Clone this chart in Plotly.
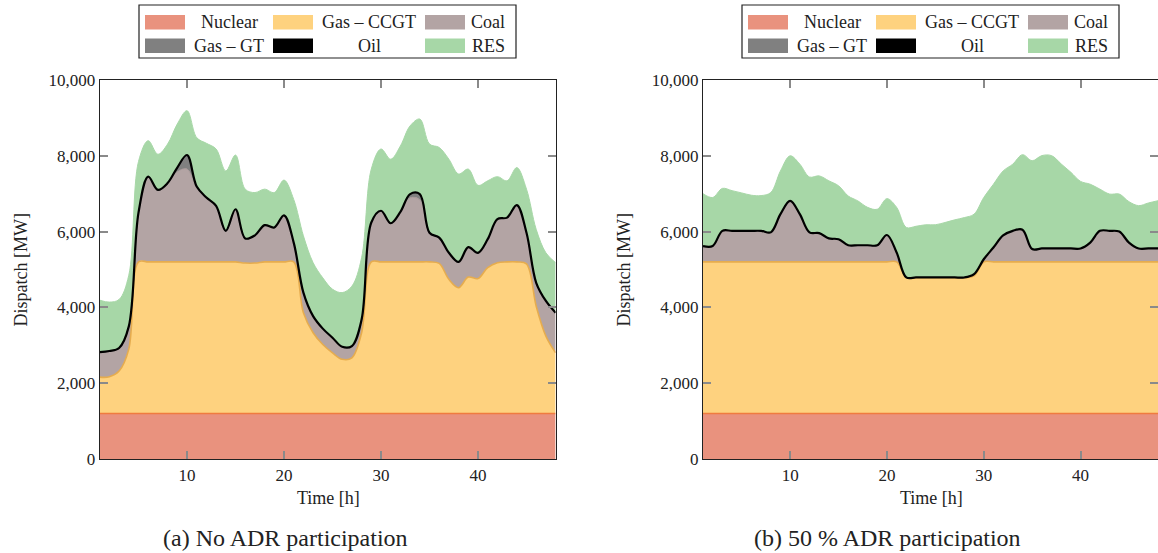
import plotly.graph_objects as go

# Hourly dispatch [MW] per technology, hours 1..48
hours = list(range(1, 49))

# (a) No ADR participation
nuclear_a = [1200] * 48
ccgt_a = [960, 970, 1120, 1700, 4000, 4000, 4000, 4000, 4000, 4000,
          4000, 4000, 4000, 4000, 4000, 3970, 3970, 4000, 4000, 4000,
          4000, 2660, 2130, 1820, 1600, 1430, 1470, 2130, 4000, 4000,
          4000, 4000, 4000, 4000, 4000, 3960, 3540, 3320, 3600, 3560,
          3850, 3980, 4000, 4000, 3950, 2830, 2040, 1600]
coal_a = [660, 680, 610, 600, 1300, 2250, 1900, 2080, 2380, 2450,
          1950, 1700, 1480, 820, 1390, 650, 730, 970, 910, 1230,
          510, 530, 440, 420, 400, 330, 310, 350, 1040, 1350,
          1020, 1320, 1690, 1640, 770, 680, 700, 680, 790, 680,
          750, 1150, 1170, 1500, 820, 620, 930, 1060]
gasgt_a = [0] * 8 + [110, 370, 40] + [0] * 21 + [100, 150] + [0] * 14
oil_a = [0] * 48
res_a = [1370, 1290, 1280, 1350, 1350, 950, 940, 1030, 1150, 1170,
         1290, 1430, 1500, 1580, 1430, 1300, 1130, 950, 920, 930,
         1140, 1500, 1410, 1340, 1280, 1430, 1580, 1630, 1410, 1630,
         1690, 1740, 1800, 1980, 2340, 2380, 2470, 2320, 2060, 1780,
         1540, 1120, 970, 990, 1150, 1410, 1270, 1320]

# (b) 50 % ADR participation
nuclear_b = [1200] * 48
ccgt_b = [4000] * 21 + [3590] * 7 + [3630] + [4000] * 19
coal_b = [420, 420, 820, 820, 820, 820, 820, 780, 1260, 1610,
          1260, 780, 760, 620, 600, 440, 440, 440, 440, 710,
          250, 0, 0, 0, 0, 0, 0, 0, 50, 70,
          380, 700, 820, 850, 340, 355, 355, 355, 355, 355,
          510, 820, 820, 800, 510, 355, 355, 355]
gasgt_b = [0] * 48
oil_b = [0] * 48
res_b = [1380, 1280, 1120, 1060, 1000, 940, 930, 1050, 1140, 1190,
         1320, 1460, 1510, 1520, 1410, 1300, 1170, 1000, 950, 960,
         1190, 1320, 1350, 1390, 1390, 1450, 1520, 1580, 1580, 1630,
         1670, 1700, 1760, 1980, 2330, 2450, 2450, 2230, 2010, 1770,
         1540, 1100, 970, 990, 1080, 1130, 1200, 1260]

tech_names = ["Nuclear", "Gas \u2013 CCGT", "Coal", "Gas \u2013 GT", "Oil", "RES"]
fill_colors = ["#E9927E", "#FED27F", "#B3A4A4", "#808080", "#000000", "#A7D7A7"]
line_colors = ["#F07B3F", "#E6AC4E", "#A89898", "#767676", "#000000", "#A7D7A7"]
line_widths = [1.6, 1.6, 1.0, 1.0, 2.2, 1.0]

y_ticks = [0, 2000, 4000, 6000, 8000, 10000]
x_ticks = [10, 20, 30, 40]

W, H = 1158, 553
FONT = "Liberation Serif"


def px(x):
    return x / W


def py(y):
    return 1 - y / H


fig = go.Figure()

panels = [
    ("x", "y", "a", [nuclear_a, ccgt_a, coal_a, gasgt_a, oil_a, res_a]),
    ("x2", "y2", "b", [nuclear_b, ccgt_b, coal_b, gasgt_b, oil_b, res_b]),
]
for xa, ya, grp, series in panels:
    for name, vals, fc, lc, lw in zip(tech_names, series, fill_colors,
                                      line_colors, line_widths):
        fig.add_trace(go.Scatter(
            x=hours, y=vals, name=name, xaxis=xa, yaxis=ya,
            stackgroup=grp, mode="lines",
            line=dict(color=lc, width=lw, shape="spline", smoothing=1.0),
            fillcolor=fc, showlegend=False, hoverinfo="skip",
        ))

axis_common = dict(
    showgrid=False, zeroline=False, showline=True, linecolor="#222",
    linewidth=1.2, mirror="ticks", ticks="inside", ticklen=8,
    tickwidth=1.5, tickcolor="#8a8a8a", automargin=False,
    tickfont=dict(family=FONT, size=17, color="#222"),
)
y_domain = [py(459), py(80)]
fig.update_layout(
    width=W, height=H,
    margin=dict(l=0, r=0, t=0, b=0, pad=0, autoexpand=False),
    plot_bgcolor="white", paper_bgcolor="white",
    font=dict(family=FONT, color="#222"),
    xaxis=dict(domain=[px(99.7), px(555.6)], range=[1, 48],
               tickvals=x_ticks, anchor="y", **axis_common),
    yaxis=dict(domain=y_domain, range=[0, 10000], tickvals=y_ticks,
               tickformat=",", anchor="x", **axis_common),
    xaxis2=dict(domain=[px(703), 1.0], range=[1, 48],
                tickvals=x_ticks, anchor="y2", **axis_common),
    yaxis2=dict(domain=y_domain, range=[0, 10000], tickvals=y_ticks,
                tickformat=",", anchor="x2", **axis_common),
)

# Axis titles and sub-captions
annotations = []
for dx, cap, cap_x in [(0, "(a) No ADR participation", 285),
                       (603, "(b) 50 % ADR participation", 888)]:
    annotations.append(dict(x=px(20 + dx), y=py(270.5), xref="paper", yref="paper",
                            text="Dispatch [MW]", textangle=-90, showarrow=False,
                            font=dict(family=FONT, size=18, color="#222"),
                            xanchor="center", yanchor="middle"))
    annotations.append(dict(x=px(328 + dx), y=py(498), xref="paper", yref="paper",
                            text="Time [h]", showarrow=False,
                            font=dict(family=FONT, size=18, color="#222"),
                            xanchor="center", yanchor="middle"))
    annotations.append(dict(x=px(cap_x), y=py(538), xref="paper", yref="paper",
                            text=cap, showarrow=False,
                            font=dict(family=FONT, size=24, color="#222"),
                            xanchor="center", yanchor="middle"))

# Legend boxes drawn above each panel (3 columns x 2 rows)
shapes = []
swatch_x = [145, 273, 425]
label_cx = [229, 369, 488]
row_y = [(15, 29.5), (38.5, 53)]
for dx in (0, 603):
    shapes.append(dict(type="rect", xref="paper", yref="paper",
                       x0=px(139 + dx), x1=px(516 + dx), y0=py(58), y1=py(5),
                       line=dict(color="#222", width=1.2), fillcolor="white",
                       layer="above"))
    for i, (name, fc) in enumerate(zip(tech_names, fill_colors)):
        r, c = divmod(i, 3)
        y0, y1 = row_y[r]
        shapes.append(dict(type="rect", xref="paper", yref="paper",
                           x0=px(swatch_x[c] + dx), x1=px(swatch_x[c] + 40 + dx),
                           y0=py(y1), y1=py(y0), line=dict(width=0),
                           fillcolor=fc, layer="above"))
        annotations.append(dict(x=px(label_cx[c] + dx), y=py((y0 + y1) / 2),
                                xref="paper", yref="paper", text=name,
                                showarrow=False, xanchor="center", yanchor="middle",
                                font=dict(family=FONT, size=18, color="#222")))

fig.update_layout(shapes=shapes, annotations=annotations)
fig.write_html("out.html")
